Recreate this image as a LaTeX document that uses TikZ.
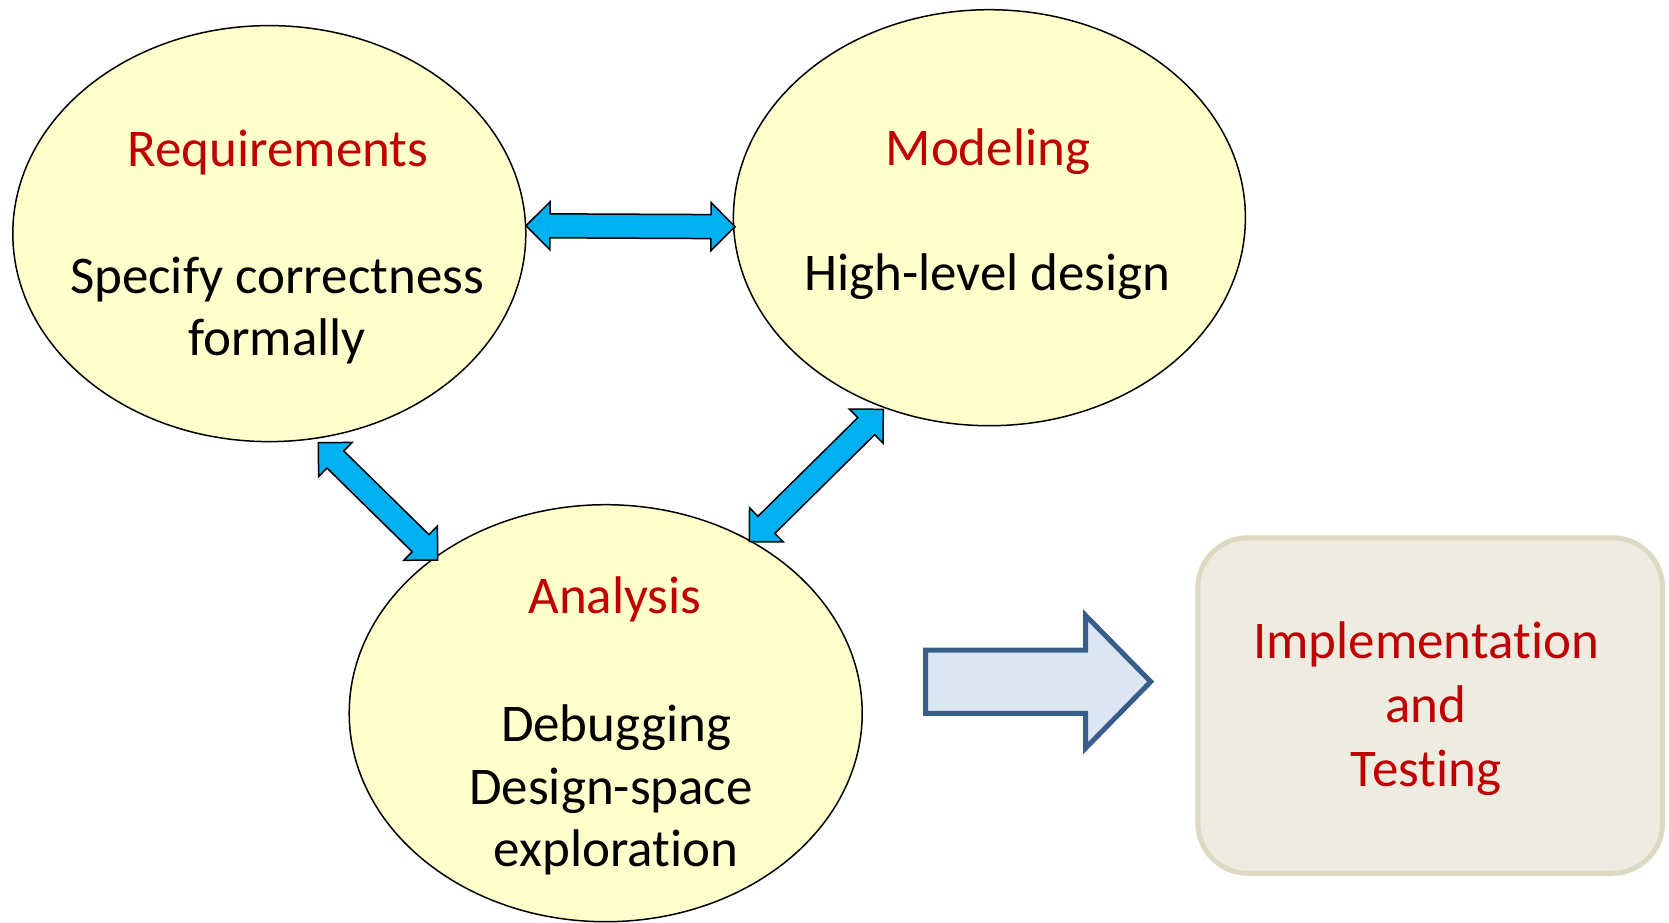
\documentclass[tikz,border=0pt]{standalone}
\usepackage{fontspec}
\setmainfont{Carlito}[Ligatures=NoCommon]
\usetikzlibrary{calc,shapes.geometric}
\definecolor{ellfill}{HTML}{FFFFCC}
\definecolor{titlered}{HTML}{C00000}
\definecolor{arrblue}{HTML}{00B0F0}
\definecolor{bigfill}{HTML}{DCE6F2}
\definecolor{bigline}{HTML}{385D8A}
\definecolor{boxfill}{HTML}{EEECE1}
\definecolor{boxline}{HTML}{DDD9C3}
\newcommand{\dblarrow}[2]{%
 \coordinate (#1-h1) at ($(#1)!12pt!(#2)$);
 \coordinate (#1-h2) at ($(#2)!12pt!(#1)$);
 \draw[link] (#1) -- ($(#1-h1)!12pt!90:(#2)$) -- ($(#1-h1)!6pt!90:(#2)$)
   -- ($(#1-h2)!6pt!-90:(#1)$) -- ($(#1-h2)!12pt!-90:(#1)$) -- (#2)
   -- ($(#1-h2)!12pt!90:(#1)$) -- ($(#1-h2)!6pt!90:(#1)$)
   -- ($(#1-h1)!6pt!-90:(#2)$) -- ($(#1-h1)!12pt!-90:(#2)$) -- cycle;
}
\newcommand{\lines}[1]{\begin{tabular}[t]{@{}c@{}}#1\end{tabular}}
\setlength{\tabcolsep}{0pt}
\begin{document}
\begin{tikzpicture}[x=0.5pt,y=-0.5pt,
 phase/.style={ellipse, draw=black, line width=0.75pt, fill=ellfill, inner sep=0pt},
 title/.style={anchor=base, inner sep=0pt, text=titlered, font=\fontsize{26.5}{31.3}\selectfont},
 desc/.style={anchor=base, inner sep=0pt, font=\fontsize{26.5}{31.3}\selectfont},
 link/.style={draw=black, line width=0.75pt, fill=arrblue, line join=miter},
 bigarrow/.style={draw=bigline, fill=bigfill, line width=2.5pt, line join=miter},
 stagebox/.style={draw=boxline, fill=boxfill, line width=2.5pt, rounded corners=25pt, inner sep=0pt},
]
\useasboundingbox (0,0) rectangle (1669,922);

% phases
\node[phase, minimum width=256.5pt, minimum height=208pt] (req) at (269.3,233.6) {};
\node[phase, minimum width=256pt, minimum height=208pt] (mod) at (989.4,217.7) {};
\node[phase, minimum width=256.5pt, minimum height=208.5pt] (ana) at (605.7,713.2) {};

% texts
\node[title] (reqt) at (278,166) {Requirements};
\node[desc] (reqd) at (277,293.3) {\lines{Specify correctness\\formally}};
\node[title] (modt) at (988,165) {Modeling};
\node[desc] (modd) at (987.5,290) {High-level design};
\node[title] (anat) at (615,613.3) {Analysis};
\node[desc] (anad) at (616,741.7) {\lines{Debugging\\Design-space\hspace*{5pt}\\exploration}};

% double arrows
\coordinate (rm1) at (526,225.7);
\coordinate (rm2) at (735,226.7);
\coordinate (ra1) at (318.3,442.7);
\coordinate (ra2) at (437.7,560);
\coordinate (ma1) at (883.3,409.3);
\coordinate (ma2) at (749.3,541.7);
\dblarrow{rm1}{rm2}
\dblarrow{ra1}{ra2}
\dblarrow{ma1}{ma2}

% implementation box
\node[stagebox, minimum width=232.35pt, minimum height=167.75pt] (impl) at (1430.2,705.5) {};
\node[anchor=base, inner sep=0pt, text=titlered, font=\fontsize{26.5}{32}\selectfont] (implt) at (1426,658) {\lines{Implementation\\and\\Testing}};

% big arrow
\draw[bigarrow] (925.7,650) -- (1085.7,650) -- (1085.7,615.5) -- (1150.7,681.7)
  -- (1085.7,748) -- (1085.7,713.3) -- (925.7,713.3) -- cycle;
\end{tikzpicture}
\end{document}
